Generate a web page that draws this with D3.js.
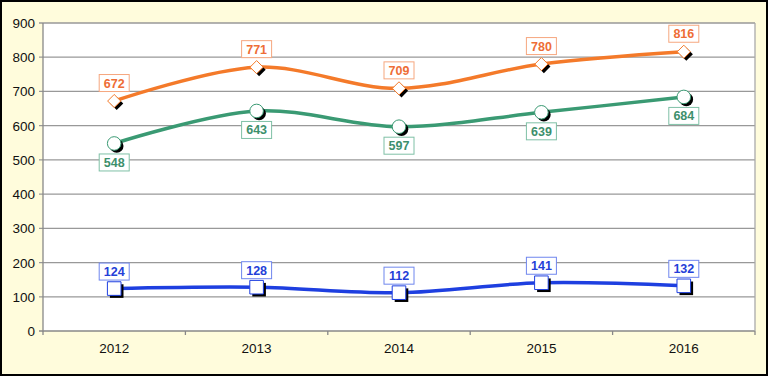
<!DOCTYPE html>
<html>
<head>
<meta charset="utf-8">
<script src="https://cdn.jsdelivr.net/npm/d3@7"></script>
<style>
  body { margin: 0; background: #fff; }
  svg { display: block; font-family: Arial, "Liberation Sans", sans-serif; }
</style>
</head>
<body>
<svg id="chart" width="768" height="376"></svg>
<script>
let years = ['2012', '2013', '2014', '2015', '2016'];
let orangeValues = [672, 771, 709, 780, 816];
let greenValues = [548, 643, 597, 639, 684];
let blueValues = [124, 128, 112, 141, 132];
let yTicks = [0, 100, 200, 300, 400, 500, 600, 700, 800, 900];

let svg = d3.select('#chart');
let width = 768, height = 376;
let plotLeft = 43, plotRight = 755, plotTop = 23, plotBottom = 331;

// background + frame
svg.append('rect')
	.attr('x', 1).attr('y', 1)
	.attr('width', width - 2).attr('height', height - 2)
	.attr('fill', '#fffcdc')
	.attr('stroke', '#000')
	.attr('stroke-width', 2);

svg.append('rect')
	.attr('x', plotLeft).attr('y', plotTop)
	.attr('width', plotRight - plotLeft).attr('height', plotBottom - plotTop)
	.attr('fill', '#fff');

let x = d3.scaleBand().domain(years).range([plotLeft, plotRight]).padding(0);
let y = d3.scaleLinear().domain([0, 900]).range([plotBottom, plotTop]);
let cx = (d) => x(d) + x.bandwidth() / 2;

// gridlines
svg.append('g')
	.selectAll('line')
	.data(yTicks)
	.enter()
	.append('line')
	.attr('x1', plotLeft - 4).attr('x2', plotRight)
	.attr('y1', (d) => y(d)).attr('y2', (d) => y(d))
	.attr('stroke', (d) => d === 0 ? '#888' : '#999')
	.attr('stroke-width', 1.3);

// plot borders
svg.append('line')
	.attr('x1', plotLeft).attr('x2', plotLeft)
	.attr('y1', plotTop).attr('y2', plotBottom + 0.5)
	.attr('stroke', '#888').attr('stroke-width', 1.3);
svg.append('line')
	.attr('x1', plotRight).attr('x2', plotRight)
	.attr('y1', plotTop).attr('y2', plotBottom)
	.attr('stroke', '#aaa').attr('stroke-width', 1.3);

// y labels
svg.append('g')
	.selectAll('text')
	.data(yTicks)
	.enter()
	.append('text')
	.attr('x', 35)
	.attr('y', (d) => y(d) + 5)
	.attr('text-anchor', 'end')
	.attr('font-size', 13.5)
	.attr('fill', '#111')
	.text((d) => d);

// x axis ticks at band edges
let edges = years.map((d) => x(d)).concat([plotRight]);
svg.append('g')
	.selectAll('line')
	.data(edges)
	.enter()
	.append('line')
	.attr('x1', (d) => d).attr('x2', (d) => d)
	.attr('y1', plotBottom).attr('y2', plotBottom + 4)
	.attr('stroke', '#888').attr('stroke-width', 1.3);

svg.append('g')
	.selectAll('text')
	.data(years)
	.enter()
	.append('text')
	.attr('x', (d) => cx(d))
	.attr('y', 353)
	.attr('text-anchor', 'middle')
	.attr('font-size', 13.5)
	.attr('fill', '#111')
	.text((d) => d);

let series = [
	{ values: orangeValues, color: '#f47a2a', text: '#ee6d36', border: '#f6a77f', shape: 'diamond', dy: -18 },
	{ values: greenValues, color: '#3a9a73', text: '#3d8f6c', border: '#7fc0a6', shape: 'circle', dy: 19 },
	{ values: blueValues, color: '#1e3fe0', text: '#2440d8', border: '#6f86ee', shape: 'square', dy: -17 }
];

let line = d3.line()
	.x((d, i) => cx(years[i]))
	.y((d) => y(d))
	.curve(d3.curveCatmullRom.alpha(0.5));

let symbolPath = (shape) => {
	if (shape === 'diamond') return d3.symbol().type(d3.symbolDiamond2).size(110)();
	if (shape === 'circle') return d3.symbol().type(d3.symbolCircle).size(145)();
	return d3.symbol().type(d3.symbolSquare).size(185)();
};

series.forEach((s) => {
	svg.append('path')
		.attr('d', line(s.values))
		.attr('fill', 'none')
		.attr('stroke', s.color)
		.attr('stroke-width', 3.5);

	let g = svg.append('g');
	// shadows
	g.selectAll('.shadow')
		.data(s.values)
		.enter()
		.append('path')
		.attr('d', symbolPath(s.shape))
		.attr('transform', (d, i) => 'translate(' + (cx(years[i]) + 2.5) + ',' + (y(d) + 2.5) + ')')
		.attr('fill', '#000');
	g.selectAll('.marker')
		.data(s.values)
		.enter()
		.append('path')
		.attr('d', symbolPath(s.shape))
		.attr('transform', (d, i) => 'translate(' + cx(years[i]) + ',' + y(d) + ')')
		.attr('fill', '#fff')
		.attr('stroke', s.color)
		.attr('stroke-width', 1);

	let labels = svg.append('g')
		.selectAll('g')
		.data(s.values)
		.enter()
		.append('g')
		.attr('transform', (d, i) => 'translate(' + cx(years[i]) + ',' + (y(d) + s.dy) + ')');
	labels.append('rect')
		.attr('x', -15).attr('y', -8.5)
		.attr('width', 30).attr('height', 17)
		.attr('fill', '#fff')
		.attr('stroke', s.border)
		.attr('stroke-width', 1);
	labels.append('text')
		.attr('y', 4.5)
		.attr('text-anchor', 'middle')
		.attr('font-size', 12.5)
		.attr('font-weight', 'bold')
		.attr('fill', s.text)
		.text((d) => d);
});
</script>
</body>
</html>
